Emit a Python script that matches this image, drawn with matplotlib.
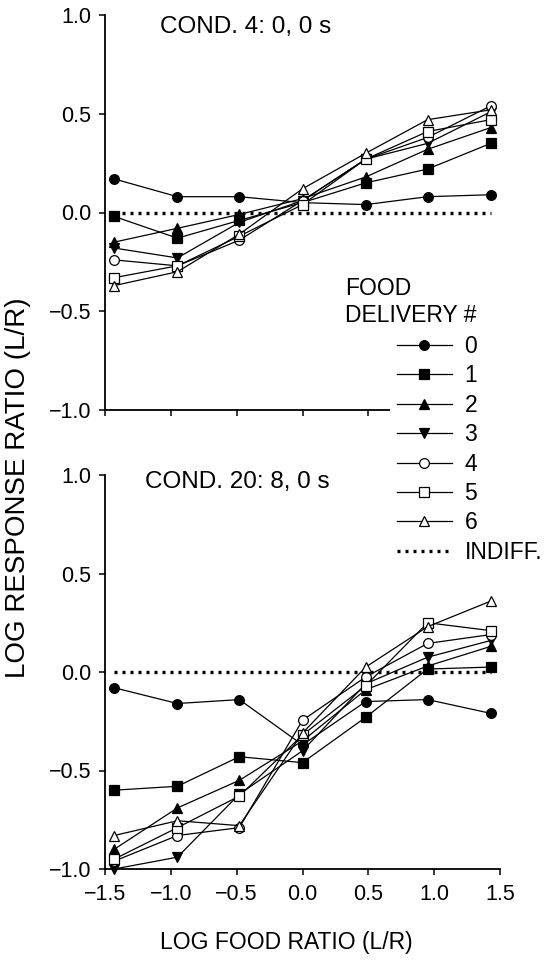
import numpy as np
import matplotlib.pyplot as plt
from matplotlib.lines import Line2D

plt.rcParams['font.family'] = ['Liberation Sans', 'DejaVu Sans']

# log food ratio (L/R) per condition
food_ratio = [-1.43, -0.95, -0.48, 0.0, 0.48, 0.95, 1.43]
delivery = ['0', '1', '2', '3', '4', '5', '6']

# COND. 4: 0, 0 s
cond4 = [
    [0.17, 0.08, 0.08, 0.05, 0.04, 0.08, 0.09],
    [-0.02, -0.13, -0.04, 0.05, 0.15, 0.22, 0.35],
    [-0.15, -0.08, -0.01, 0.07, 0.18, 0.32, 0.43],
    [-0.18, -0.23, -0.05, 0.06, 0.27, 0.35, 0.51],
    [-0.24, -0.27, -0.14, 0.06, 0.27, 0.38, 0.54],
    [-0.33, -0.27, -0.12, 0.04, 0.27, 0.41, 0.47],
    [-0.37, -0.30, -0.11, 0.12, 0.30, 0.47, 0.52],
]

# COND. 20: 8, 0 s
cond20 = [
    [-0.08, -0.16, -0.14, -0.37, -0.15, -0.14, -0.21],
    [-0.60, -0.58, -0.43, -0.46, -0.23, 0.015, 0.025],
    [-0.90, -0.69, -0.55, -0.35, -0.09, 0.03, 0.13],
    [-1.00, -0.94, -0.62, -0.40, -0.06, 0.075, 0.16],
    [-0.96, -0.83, -0.79, -0.245, -0.025, 0.145, 0.19],
    [-0.95, -0.79, -0.63, -0.32, -0.07, 0.25, 0.21],
    [-0.83, -0.755, -0.78, -0.31, 0.025, 0.23, 0.36],
]

x_ticks = [-1.5, -1.0, -0.5, 0.0, 0.5, 1.0, 1.5]
y_ticks = [-1.0, -0.5, 0.0, 0.5, 1.0]

markers = ['o', 's', '^', 'v', 'o', 's', '^']
faces = ['black', 'black', 'black', 'black', 'white', 'white', 'white']

FS = 16.5
TICK_FS = 15.5
W, H = 552, 961


def fmt(v):
    return '%.1f' % v if v >= 0 else '\u2212%.1f' % -v


fig = plt.figure(figsize=(W / 100, H / 100), dpi=100)
ax_top = fig.add_axes([105 / W, 1 - 410 / H, 395 / W, 395 / H])
ax_bot = fig.add_axes([105 / W, 1 - 869 / H, 395 / W, 394 / H])


def draw_panel(ax, data, title, tx, ty, show_x):
    handles = []
    ax.plot([food_ratio[0], food_ratio[-1]], [0, 0], color='black',
            lw=2.4, ls=(0, (0.9, 1.5)), zorder=1)
    for i, ys in enumerate(data):
        ln, = ax.plot(food_ratio, ys, color='black', lw=0.9,
                      marker=markers[i], ms=7, mfc=faces[i], mec='black',
                      mew=0.9, clip_on=False, zorder=3 + i)
        handles.append(ln)
    ax.set_xlim(-1.5, 1.5)
    ax.set_ylim(-1.0, 1.0)
    ax.set_xticks(x_ticks)
    ax.set_yticks(y_ticks)
    ax.set_xticklabels([fmt(v) for v in x_ticks])
    ax.set_yticklabels([fmt(v) for v in y_ticks])
    if not show_x:
        ax.tick_params(axis='x', labelbottom=False)
    for s in ['top', 'right']:
        ax.spines[s].set_visible(False)
    for s in ['left', 'bottom']:
        ax.spines[s].set_linewidth(1.3)
    ax.tick_params(direction='out', length=4, width=1.1, labelsize=TICK_FS)
    ax.tick_params(axis='y', pad=6)
    ax.tick_params(axis='x', pad=7)
    ax.text(tx, ty, title, fontsize=17.5, va='center', ha='left')
    return handles


h = draw_panel(ax_top, cond4, 'COND. 4: 0, 0 s', -1.08, 0.94, False)
draw_panel(ax_bot, cond20, 'COND. 20: 8, 0 s', -1.2, 0.965, True)

indiff = Line2D([], [], color='black', lw=2.4, ls=(0, (0.9, 1.5)))
fig.text(345 / W, 1 - 302 / H, 'FOOD\nDELIVERY #', fontsize=FS,
         ha='left', va='center', linespacing=1.2)
leg = fig.legend(h + [indiff], delivery + ['INDIFF.'], loc='upper left',
                 bbox_to_anchor=(390 / W, 1 - 328 / H), borderaxespad=0,
                 borderpad=0.3, fontsize=FS, frameon=True, fancybox=False,
                 facecolor='white', edgecolor='none', framealpha=1,
                 handlelength=2.4, handletextpad=0.55, labelspacing=0.28)

fig.text(18 / W, 1 - 488 / H, 'LOG RESPONSE RATIO (L/R)', fontsize=20,
         rotation=90, ha='center', va='center')
fig.text(286 / W, 1 - 943 / H, 'LOG FOOD RATIO (L/R)', fontsize=FS,
         ha='center', va='center')

fig.savefig('out.png', dpi=100)
